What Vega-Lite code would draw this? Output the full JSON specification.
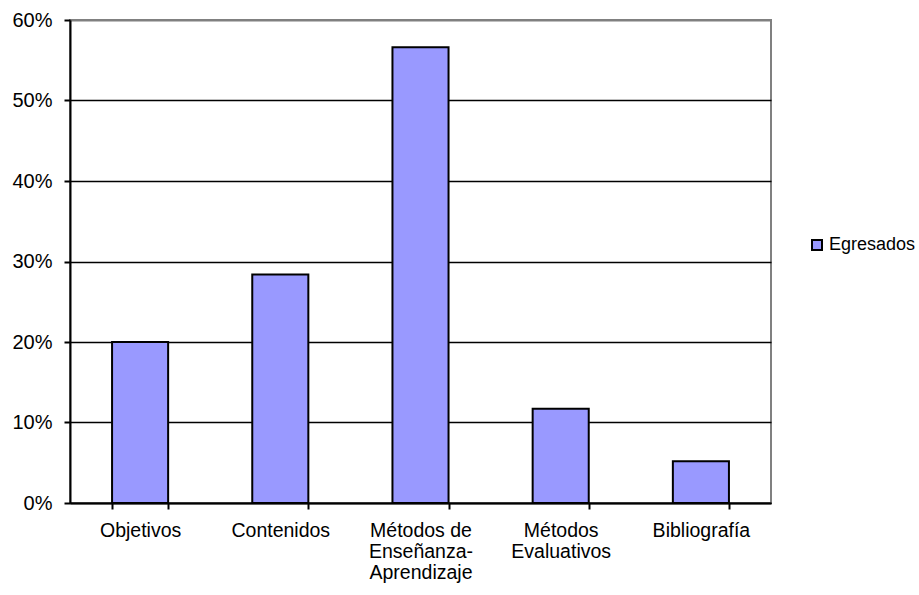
{
  "$schema": "https://vega.github.io/schema/vega-lite/v6.json",
  "width": 701,
  "height": 483,
  "autosize": {"type": "none"},
  "padding": {"left": 70, "top": 20, "right": 148, "bottom": 92},
  "background": "white",
  "config": {
    "font": "Liberation Sans",
    "view": {"stroke": "#808080", "strokeWidth": 2}
  },
  "data": {
    "values": [
      {"categoria": "Objetivos", "serie": "Egresados", "valor": 0.20},
      {"categoria": "Contenidos", "serie": "Egresados", "valor": 0.284},
      {"categoria": "Métodos de|Enseñanza-|Aprendizaje", "serie": "Egresados", "valor": 0.566},
      {"categoria": "Métodos|Evaluativos", "serie": "Egresados", "valor": 0.117},
      {"categoria": "Bibliografía", "serie": "Egresados", "valor": 0.052}
    ]
  },
  "mark": {"type": "bar", "stroke": "black", "strokeWidth": 2},
  "encoding": {
    "x": {
      "field": "categoria",
      "type": "nominal",
      "sort": null,
      "scale": {"paddingInner": 0.6, "paddingOuter": 0.3},
      "axis": {
        "title": null,
        "labelAngle": 0,
        "labelExpr": "split(datum.label, '|')",
        "labelFontSize": 19.5,
        "labelColor": "black",
        "labelPadding": 12,
        "labelLineHeight": 21,
        "labelBaseline": "top",
        "tickBand": "extent",
        "tickSize": 6,
        "tickColor": "black",
        "tickWidth": 2,
        "domainColor": "black",
        "domainWidth": 2,
        "grid": false
      }
    },
    "y": {
      "field": "valor",
      "type": "quantitative",
      "scale": {"domain": [0, 0.6], "nice": false},
      "axis": {
        "title": null,
        "format": ".0%",
        "values": [0, 0.1, 0.2, 0.3, 0.4, 0.5, 0.6],
        "labelFontSize": 20,
        "labelColor": "black",
        "labelPadding": 12,
        "tickSize": 6,
        "tickColor": "black",
        "tickWidth": 2,
        "domainColor": "black",
        "domainWidth": 2,
        "grid": true,
        "gridColor": {"condition": {"test": "datum.value >= 0.6", "value": "#808080"}, "value": "black"},
        "gridWidth": {"condition": {"test": "datum.value >= 0.6", "value": 2}, "value": 1.5}
      }
    },
    "color": {
      "field": "serie",
      "type": "nominal",
      "scale": {"range": ["#9999FF"]},
      "legend": {
        "title": null,
        "orient": "none",
        "legendX": 738,
        "legendY": 216,
        "symbolType": "square",
        "symbolSize": 100,
        "symbolStrokeColor": "black",
        "symbolStrokeWidth": 2,
        "symbolOpacity": 1,
        "labelFontSize": 18,
        "labelColor": "black",
        "labelOffset": 3
      }
    }
  }
}
